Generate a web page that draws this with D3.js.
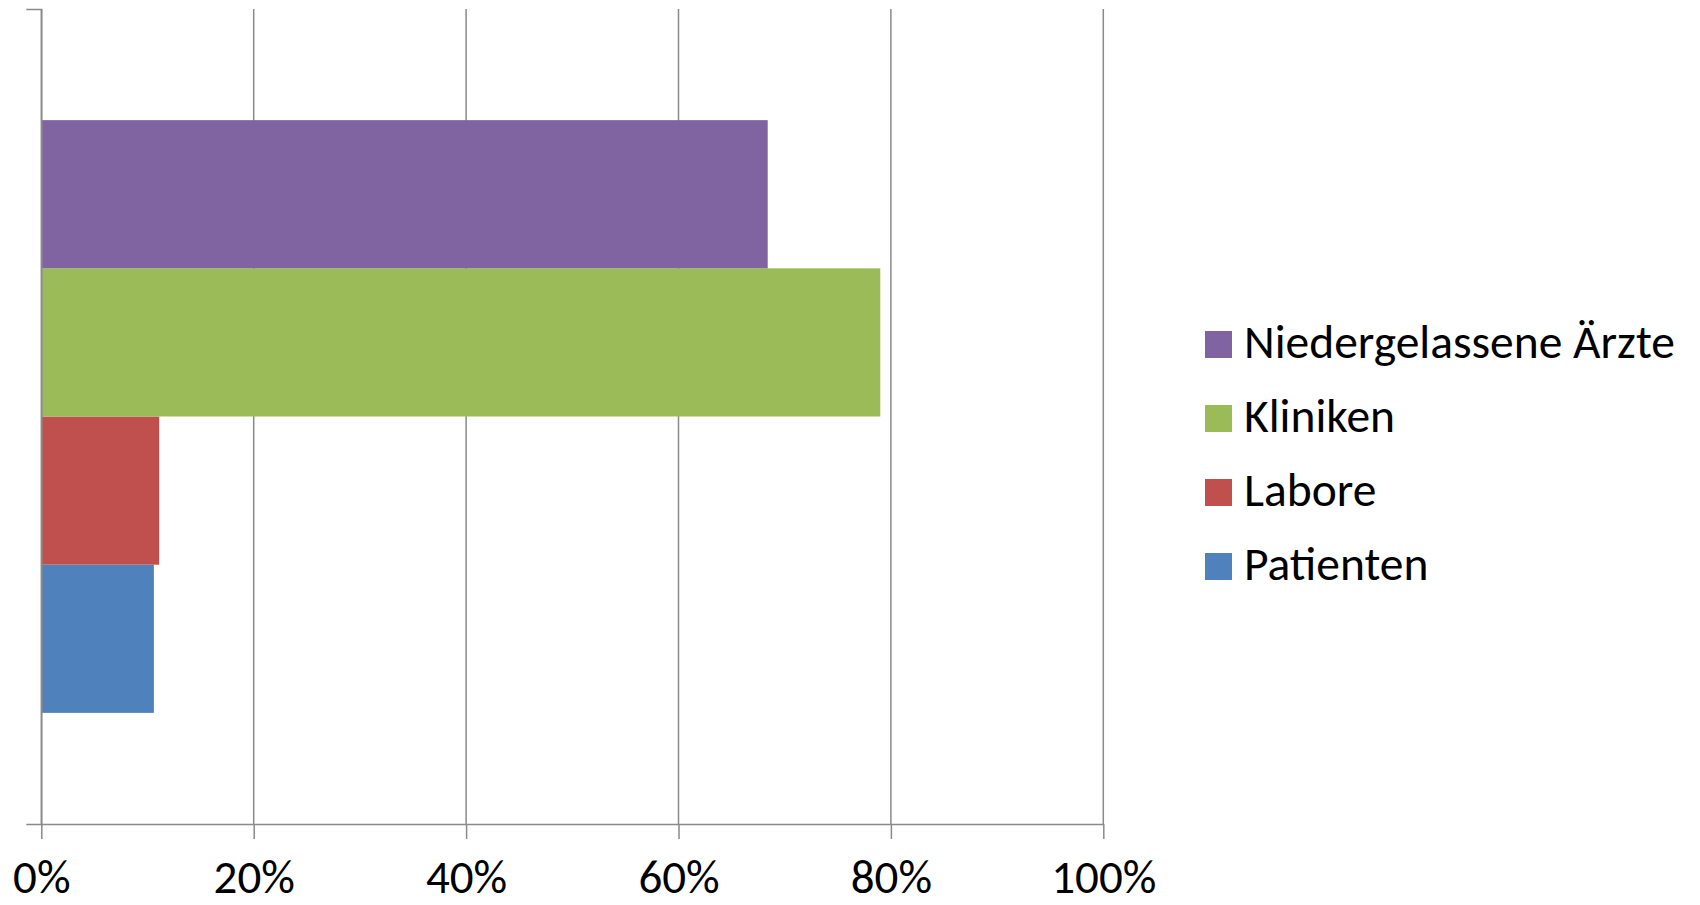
<!DOCTYPE html>
<html>
<head>
<meta charset="utf-8">
<script src="https://cdn.jsdelivr.net/npm/d3@7"></script>
<style>
  html, body { margin: 0; padding: 0; background: #ffffff; }
  svg { display: block; }
  text { font-family: Carlito, Calibri, Lato, "Open Sans", sans-serif; fill: #000; }
</style>
</head>
<body>
<svg id="chart" width="1700" height="905"></svg>
<script>
// Share of respondents per group (percent)
const categories = [""];
const seriesNames = ["Patienten", "Labore", "Kliniken", "Niedergelassene Ärzte"];
const seriesValues = [10.6, 11.1, 79.0, 68.4];
const seriesColors = ["#4F81BD", "#C0504D", "#9BBB59", "#8064A2"];
const xTicks = [0, 20, 40, 60, 80, 100];
const xTickLabels = ["0%", "20%", "40%", "60%", "80%", "100%"];

const svg = d3.select("#chart");
const plot = { left: 41.3, right: 1103.3, top: 9, bottom: 824 };
const axisColor = "#8a8a8a";

const x = d3.scaleLinear().domain([0, 100]).range([plot.left, plot.right]);

// Category band (single group) with a 150% gap width
const y0 = d3.scaleBand().domain(categories).range([plot.top, plot.bottom])
  .paddingInner(0).paddingOuter(0.1875);
// Series inside the group, first series at the bottom
const y1 = d3.scaleBand().domain(seriesNames.slice().reverse())
  .range([0, y0.bandwidth()]).padding(0);

// Vertical gridlines
svg.append("g")
  .selectAll("line")
  .data(xTicks)
  .join("line")
  .attr("x1", d => x(d)).attr("x2", d => x(d))
  .attr("y1", plot.top).attr("y2", plot.bottom)
  .attr("stroke", axisColor).attr("stroke-width", 1.5);

// Bars
const bars = seriesNames.map((name, i) => ({ name, value: seriesValues[i], color: seriesColors[i] }));
svg.append("g")
  .selectAll("rect")
  .data(bars)
  .join("rect")
  .attr("x", x(0))
  .attr("y", d => y0(categories[0]) + y1(d.name))
  .attr("width", d => x(d.value) - x(0))
  .attr("height", y1.bandwidth())
  .attr("fill", d => d.color);

// Bottom axis
const xAxis = svg.append("g")
  .attr("transform", `translate(0,${plot.bottom})`)
  .call(d3.axisBottom(x).tickValues(xTicks)
    .tickFormat((d, i) => xTickLabels[i]).tickSize(15).tickSizeOuter(0));
xAxis.select(".domain").attr("stroke", axisColor).attr("stroke-width", 1.5);
xAxis.selectAll(".tick line").attr("stroke", axisColor).attr("stroke-width", 1.5);
xAxis.selectAll(".tick text")
  .attr("y", 69).attr("dy", null)
  .style("font-size", "47px")
  .style("font-family", "Carlito, Calibri, Lato, 'Open Sans', sans-serif")
  .attr("fill", "#000");

// Left axis: line with boundary ticks only
const yAxis = svg.append("g")
  .attr("transform", `translate(${plot.left},0)`)
  .call(d3.axisLeft(d3.scaleLinear().domain([0, 1]).range([plot.bottom, plot.top]))
    .tickValues([]).tickSizeOuter(15));
yAxis.select(".domain").attr("stroke", axisColor).attr("stroke-width", 1.5);

// Legend (top series first)
const legendItems = bars.slice().reverse();
const legend = svg.append("g").attr("transform", "translate(1205,331)");
const rows = legend.selectAll("g")
  .data(legendItems)
  .join("g")
  .attr("transform", (d, i) => `translate(0,${i * 74})`);
rows.append("rect")
  .attr("width", 27).attr("height", 27)
  .attr("fill", d => d.color);
rows.append("text")
  .attr("x", 39).attr("y", 27)
  .style("font-size", "47.5px")
  .text(d => d.name);
</script>
</body>
</html>
